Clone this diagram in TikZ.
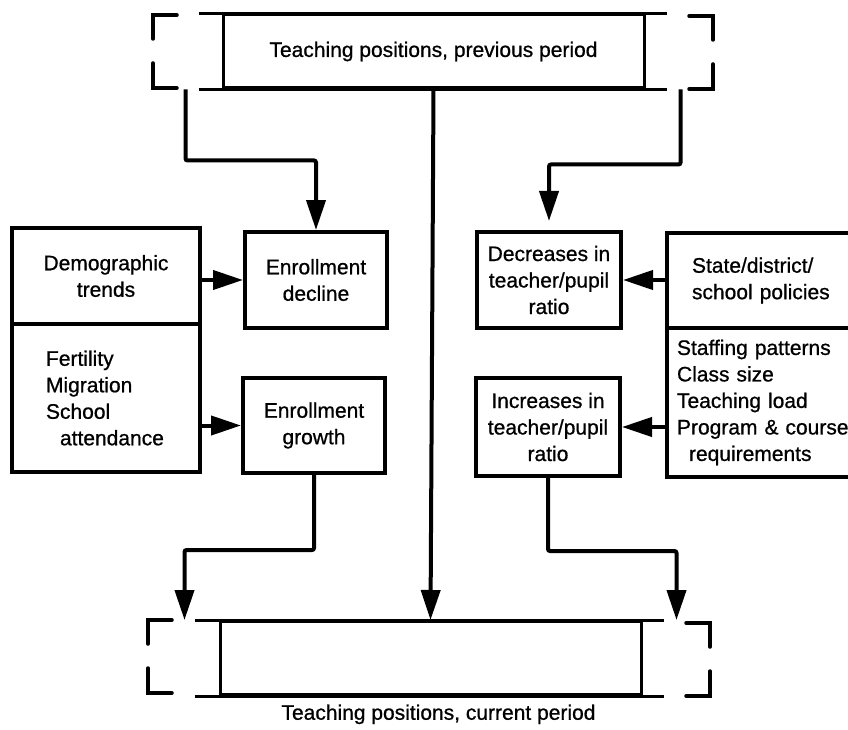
\documentclass[tikz,border=0pt]{standalone}
\usepackage{fontspec}
\setmainfont{Liberation Sans}[FakeBold=0.8]
\usepackage{tikz}
\usetikzlibrary{arrows.meta}
\usetikzlibrary{positioning}
\usetikzlibrary{calc}
\tikzset{basic box/.style={draw,line width=4pt,inner sep=0pt,font=\fontsize{21}{26.5}\selectfont}}
\tikzset{link/.style={draw,
                      line width=4pt,
                      rounded corners=2pt,
                      -{Triangle[length=30pt,width=19pt]}}}
\tikzset{bracket/.style={draw,line width=3.5pt,line cap=round}}

\begin{document}
\begin{tikzpicture}
      [
      x=1pt,y=-1pt,
      my box/.style={basic box,
      minimum width=142pt,
      minimum height=96pt,
      align=center},
      period box/.style={basic box,
      line width=3pt,
      minimum width=421pt,
      minimum height=73pt},
      ]

      \path [use as bounding box,clip] (0,0) rectangle (848,730);

      % periods
      \node [period box] (prev) at (433.5,51.5) {Teaching positions, previous period};
      \node [period box] (curr) at (430.5,658) {};
      \node [below=5pt of curr,xshift=8pt,font=\fontsize{21}{26.5}\selectfont] (caption)
      {Teaching positions, current period};

      \foreach \n/\l/\r in {prev/23/21,curr/24/21}
      {
      \draw [line width=3pt] ([xshift=-\l pt]\n.north west) -- ([xshift=\r pt]\n.north east);
      \draw [line width=3pt] ([xshift=-\l pt]\n.south west) -- ([xshift=\r pt]\n.south east);
      }

      % dashed brackets
      \foreach \x/\s/\y in {153/1/15,713/-1/16,148/1/620,710/-1/623}
      {
      \draw [bracket] (\x+24*\s,\y) -- (\x,\y) -- (\x,\y+24);
      \draw [bracket] (\x,\y+48) -- (\x,\y+73) -- (\x+24*\s,\y+73);
      }

      % left side
      \node [basic box,minimum width=188pt,minimum height=96pt,align=center] (demo) at (106,276)
      {Demographic\\trends};
      \node [basic box,minimum width=188pt,minimum height=148pt,text width=120pt,
      inner xsep=34pt,align=left] (factors) at (106,398)
      {Fertility\\Migration\\School\\\hspace*{14pt}attendance};
      \node [my box] (decline) at (316,280) {Enrollment\\decline};
      \node [my box,minimum height=95pt] (growth) at (314,425.5) {Enrollment\\growth};

      % right side
      \node [my box,minimum width=144pt] (decr) at (549,280) {Decreases in\\teacher/pupil\\ratio};
      \node [my box,minimum width=144pt,minimum height=98pt] (incr) at (548,427)
      {Increases in\\teacher/pupil\\ratio};
      \node [basic box,minimum width=213pt,minimum height=95pt,text width=163pt,
      inner xsep=25pt,align=left] (policy) at (773.5,280.5)
      {State/district/\\school policies};
      \node [basic box,minimum width=213pt,minimum height=149pt,text width=193pt,
      inner xsep=10pt,align=left] (levers) at (773.5,402.5)
      {Staffing patterns\\Class size\\Teaching load\\Program \& course\\\hspace*{12pt}requirements};

      % edges
      \path [link] ([xshift=-36pt]prev.south west) -- ++(0,71) -| (decline.north);
      \path [link,shorten >=9pt] ([xshift=35pt]prev.south east) -- ++(0,75) -| (decr.north);
      \path [link] (prev.south) -- (curr.north);

      \path [link] (demo.east |- decline.west) -- (decline.west);
      \path [link] (factors.east |- growth.west) -- (growth.west);
      \path [link] (policy.west |- decr.east) -- (decr.east);
      \path [link] (levers.west |- incr.east) -- (incr.east);

      \path [link] (growth.south) -- ++(0,75) -| ([xshift=-34pt]curr.north west);
      \path [link] (incr.south) -- ++(0,73) -| ([xshift=34pt]curr.north east);

    \end{tikzpicture}
\end{document}
